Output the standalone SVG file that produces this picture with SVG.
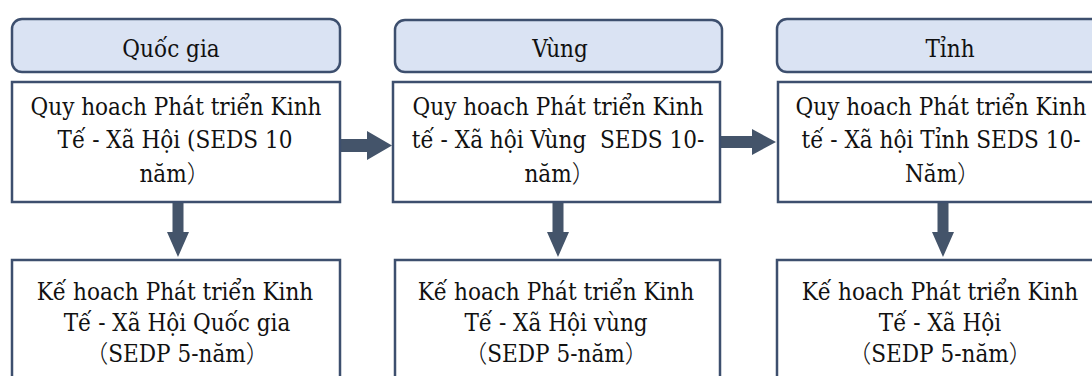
<svg xmlns="http://www.w3.org/2000/svg" width="1092" height="376" viewBox="0 0 1092 376">
  <style>
    .hdr { fill: #dae3f3; stroke: #3d4f6e; stroke-width: 2.5; }
    .box { fill: #ffffff; stroke: #3d4f6e; stroke-width: 2.5; }
    .arrow { fill: #44546a; }
    text { font-family: 'DejaVu Serif Condensed', 'DejaVu Serif', serif; font-stretch: condensed; font-size: 24px; fill: #111111; text-anchor: middle; }
    .h { font-size: 24px; }
    .cjk { font-family: 'Noto Sans CJK SC', sans-serif; font-weight: 300; font-stretch: normal; }
  </style>
  <rect width="1092" height="376" fill="#ffffff"/>

  <g id="connectors">
    <polygon class="arrow" points="340,139 367,139 367,131 392,145.5 367,160 367,152 340,152"/>
    <polygon class="arrow" points="720,136 752,136 752,129 776,142 752,155 752,148 720,148"/>
    <polygon class="arrow" points="172.5,202 183.5,202 183.5,232 189,232 178,257 167,232 172.5,232"/>
    <polygon class="arrow" points="552.5,202 563.5,202 563.5,232 569,232 558,257 547,232 552.5,232"/>
    <polygon class="arrow" points="937.5,202 948.5,202 948.5,232 954,232 943,257 932,232 937.5,232"/>
  </g>

  <g id="hdr-quocgia">
    <rect class="hdr" x="12" y="19" width="328" height="53" rx="10"/>
    <text class="h" x="171" y="57">Quốc gia</text>
  </g>
  <g id="hdr-vung">
    <rect class="hdr" x="395" y="20" width="327" height="52" rx="10"/>
    <text class="h" x="560" y="57">Vùng</text>
  </g>
  <g id="hdr-tinh">
    <rect class="hdr" x="777" y="19" width="340" height="53" rx="10"/>
    <text class="h" x="950" y="57">Tỉnh</text>
  </g>

  <g id="seds-quocgia">
    <rect class="box" x="12" y="82" width="328" height="120"/>
    <text x="176" y="115">Quy hoach Phát triển Kinh</text>
    <text x="175" y="148">Tế - Xã Hội (SEDS 10</text>
    <text x="175" y="182">năm<tspan class="cjk">）</tspan></text>
  </g>
  <g id="seds-vung">
    <rect class="box" x="393" y="82" width="327" height="120"/>
    <text x="558" y="115">Quy hoach Phát triển Kinh</text>
    <text x="558" y="148" xml:space="preserve">tế - Xã hội Vùng  SEDS 10-</text>
    <text x="560" y="182">năm<tspan class="cjk">）</tspan></text>
  </g>
  <g id="seds-tinh">
    <rect class="box" x="778" y="82" width="340" height="120"/>
    <text x="941" y="115">Quy hoach Phát triển Kinh</text>
    <text x="941" y="148">tế - Xã hội Tỉnh SEDS 10-</text>
    <text x="943" y="182">Năm<tspan class="cjk">）</tspan></text>
  </g>

  <g id="sedp-quocgia">
    <rect class="box" x="12" y="260" width="328" height="130"/>
    <text x="175" y="300">Kế hoach Phát triển Kinh</text>
    <text x="177" y="331">Tế - Xã Hội Quốc gia</text>
    <text x="177" y="362"><tspan class="cjk">（</tspan>SEDP 5-năm<tspan class="cjk">）</tspan></text>
  </g>
  <g id="sedp-vung">
    <rect class="box" x="395" y="260" width="325" height="130"/>
    <text x="556" y="300">Kế hoach Phát triển Kinh</text>
    <text x="556" y="331">Tế - Xã Hội vùng</text>
    <text x="556" y="362"><tspan class="cjk">（</tspan>SEDP 5-năm<tspan class="cjk">）</tspan></text>
  </g>
  <g id="sedp-tinh">
    <rect class="box" x="777" y="260" width="340" height="130"/>
    <text x="940" y="300">Kế hoach Phát triển Kinh</text>
    <text x="940" y="331">Tế - Xã Hội</text>
    <text x="940" y="362"><tspan class="cjk">（</tspan>SEDP 5-năm<tspan class="cjk">）</tspan></text>
  </g>
</svg>
